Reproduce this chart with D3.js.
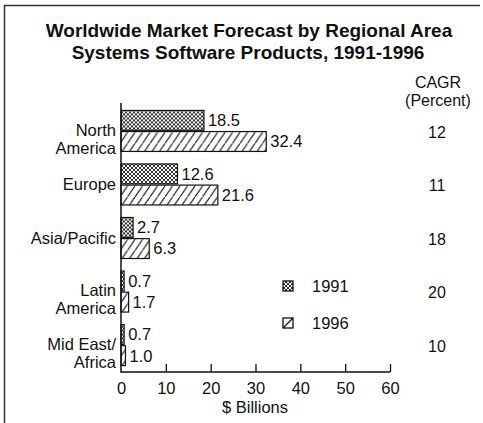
<!DOCTYPE html>
<html>
<head>
<meta charset="utf-8">
<script src="https://cdn.jsdelivr.net/npm/d3@7"></script>
<style>
  html, body { margin: 0; padding: 0; background: #fff; }
  svg { display: block; font-family: "Liberation Sans", Arial, Helvetica, sans-serif; }
</style>
</head>
<body>
<svg id="chart" width="483" height="423"></svg>
<script>
// Regional market sizes, $ billions
const regions = ["North America", "Europe", "Asia/Pacific", "Latin America", "Mid East/ Africa"];
const regionLines = [["North", "America"], ["Europe"], ["Asia/Pacific"], ["Latin", "America"], ["Mid East/", "Africa"]];
const years = ["1991", "1996"];
const values1991 = [18.5, 12.6, 2.7, 0.7, 0.7];
const values1996 = [32.4, 21.6, 6.3, 1.7, 1.0];
const cagr = [12, 11, 18, 20, 10];
const xTicks = [0, 10, 20, 30, 40, 50, 60];

const svg = d3.select("#chart");
const font = 16;
const labelFont = 16.5;

// frame lines (top and left)
svg.append("path")
  .attr("d", "M4.5,423 L4.5,5.5 L480,5.5")
  .attr("fill", "none").attr("stroke", "#333").attr("stroke-width", 1.5);

// fill patterns
const defs = svg.append("defs");
const cross = defs.append("pattern")
  .attr("id", "p1991").attr("patternUnits", "userSpaceOnUse")
  .attr("width", 4).attr("height", 4);
cross.append("rect").attr("width", 4).attr("height", 4).attr("fill", "#fff");
cross.append("path").attr("d", "M0,0 L4,4 M4,0 L0,4 M-1,1 L1,-1 M3,5 L5,3 M-1,3 L1,5 M3,-1 L5,1")
  .attr("stroke", "#222").attr("stroke-width", 0.95);

const diag = defs.append("pattern")
  .attr("id", "p1996").attr("patternUnits", "userSpaceOnUse")
  .attr("width", 7.5).attr("height", 11);
diag.append("rect").attr("width", 7.5).attr("height", 11).attr("fill", "#fff");
diag.append("path").attr("d", "M-0.75,12.1 L8.25,-1.1")
  .attr("stroke", "#111").attr("stroke-width", 1.1);

const fills = { "1991": "url(#p1991)", "1996": "url(#p1996)" };

// scales
const x = d3.scaleLinear().domain([0, 60]).range([121, 390]);
const y = d3.scaleBand().domain(regions).range([104, 372])
  .paddingInner(0.234).paddingOuter(0.12);
const ySub = d3.scaleBand().domain(years).range([0, y.bandwidth()]).paddingInner(0.06);

const rows = regions.map((r, i) => ({
  region: r, lines: regionLines[i], cagr: cagr[i],
  bars: [{ year: "1991", v: values1991[i] }, { year: "1996", v: values1996[i] }]
}));

// title
const title = svg.append("text")
  .attr("text-anchor", "middle")
  .attr("font-size", 19).attr("font-weight", "bold").attr("fill", "#111");
title.append("tspan").attr("x", 249).attr("y", 37).text("Worldwide Market Forecast by Regional Area");
title.append("tspan").attr("x", 248).attr("y", 59).text("Systems Software Products, 1991-1996");

// CAGR column header
svg.append("text").attr("x", 438).attr("y", 88).attr("text-anchor", "middle")
  .attr("font-size", font).attr("fill", "#111").text("CAGR");
svg.append("text").attr("x", 438).attr("y", 106).attr("text-anchor", "middle")
  .attr("font-size", font).attr("fill", "#111").text("(Percent)");

// bars
const groups = svg.selectAll("g.region").data(rows).join("g")
  .attr("class", "region")
  .attr("transform", d => `translate(0,${y(d.region)})`);

groups.selectAll("rect").data(d => d.bars).join("rect")
  .attr("x", x(0))
  .attr("y", b => ySub(b.year))
  .attr("width", b => x(b.v) - x(0))
  .attr("height", ySub.bandwidth())
  .attr("fill", b => fills[b.year])
  .attr("stroke", "#111").attr("stroke-width", 1.2);

groups.selectAll("text.val").data(d => d.bars).join("text")
  .attr("class", "val")
  .attr("x", b => x(b.v) + 4)
  .attr("y", b => ySub(b.year) + ySub.bandwidth() / 2)
  .attr("dy", "0.36em")
  .attr("font-size", labelFont).attr("fill", "#111")
  .text(b => b.v.toFixed(1));

// category labels and CAGR values
groups.each(function (d) {
  const g = d3.select(this);
  const c = y.bandwidth() / 2;
  const offsets = d.lines.length === 2 ? [-1, 17] : [0];
  d.lines.forEach((line, k) => {
    g.append("text")
      .attr("x", 116).attr("text-anchor", "end")
      .attr("y", c + offsets[k])
      .attr("dy", "0.36em")
      .attr("font-size", labelFont).attr("fill", "#111")
      .text(line);
  });
  g.append("text").attr("x", 437).attr("text-anchor", "middle")
    .attr("y", c + 1).attr("dy", "0.36em")
    .attr("font-size", font).attr("fill", "#111")
    .text(d.cagr);
});

// axes
const xAxis = d3.axisBottom(x).tickValues(xTicks).tickSize(-8).tickPadding(8);
const gx = svg.append("g").attr("transform", "translate(0,372)").call(xAxis);
gx.select(".domain").attr("stroke", "#111").attr("stroke-width", 1.5).attr("d", `M${x(0)},0H${x(60)}`);
gx.selectAll(".tick line").attr("stroke", "#111").attr("stroke-width", 1.3);
gx.selectAll(".tick text").attr("font-size", labelFont).attr("fill", "#111")
  .attr("font-family", "Liberation Sans, Arial, sans-serif").attr("dy", "0.85em");
gx.selectAll(".tick").filter(d => d === 0).select("line").remove();

svg.append("line").attr("x1", x(0)).attr("x2", x(0)).attr("y1", 103).attr("y2", 372.75)
  .attr("stroke", "#111").attr("stroke-width", 1.5);

svg.append("text").attr("x", 255).attr("y", 413).attr("text-anchor", "middle")
  .attr("font-size", labelFont).attr("fill", "#111").text("$ Billions");

// legend
const legend = svg.append("g");
const legendRows = [{ year: "1991", y: 286 }, { year: "1996", y: 323 }];
legend.selectAll("rect").data(legendRows).join("rect")
  .attr("x", 283).attr("y", d => d.y - 5).attr("width", 10).attr("height", 10)
  .attr("fill", d => d.year === "1991" ? fills["1991"] : "#fff")
  .attr("stroke", "#111").attr("stroke-width", 1.3);
legend.append("line").attr("x1", 283).attr("y1", 328).attr("x2", 293).attr("y2", 318)
  .attr("stroke", "#111").attr("stroke-width", 1.2);
legend.selectAll("text").data(legendRows).join("text")
  .attr("x", 312).attr("y", d => d.y).attr("dy", "0.36em")
  .attr("font-size", labelFont).attr("fill", "#111").text(d => d.year);
</script>
</body>
</html>
